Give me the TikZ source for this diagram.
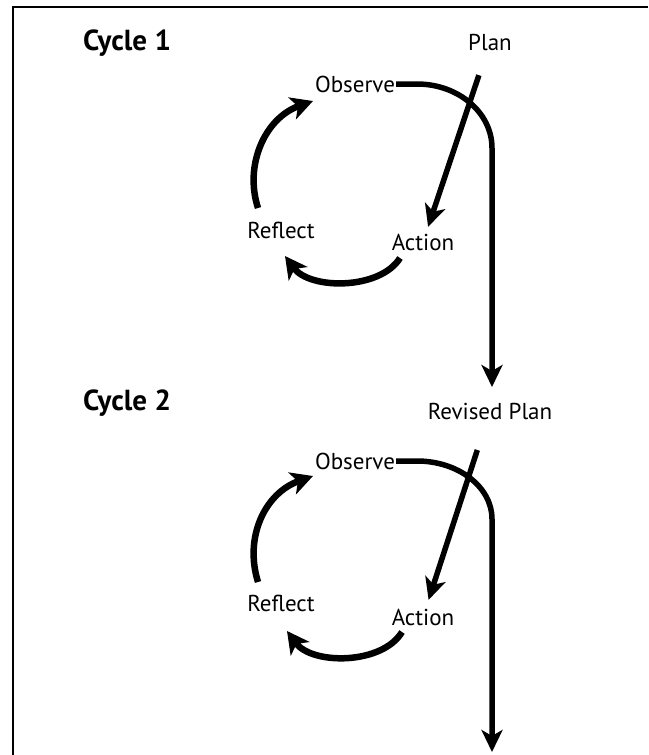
\documentclass[tikz,border=0pt]{standalone}
\usepackage{fontspec}
\setmainfont{PT Sans}
\usetikzlibrary{arrows.meta}
\tikzset{
  lbl/.style={inner sep=1pt, font=\fontsize{23}{27}\selectfont},
  ttl/.style={inner sep=1pt, font=\fontsize{29}{34}\selectfont\bfseries},
  arc/.style={line width=6.5pt, -{Stealth[length=22pt,width=23pt,inset=6pt]}},
  flow/.style={line width=5.5pt, -{Stealth[length=22pt,width=21pt,inset=6pt]}},
  frame/.style={line width=2pt}
}
\begin{document}
\begin{tikzpicture}[x=1pt,y=-1pt]
\useasboundingbox (0,0) rectangle (648,755);
\draw[frame] (648,7) -- (13,7) -- (13,755);

% Cycle 1
\node[ttl] (cyc1) at (127,43) {Cycle 1};
\node[lbl] (plan1) at (490,42) {Plan};
\node[lbl] (obs1) at (355,84) {Observe};
\node[lbl] (refl1) at (281,230) {Reflect};
\node[lbl] (act1) at (423,242) {Action};
\coordinate (bend1) at (417,84);
\coordinate (tip1) at (492,387);

\draw[arc] ([shift={(-23,-22)}]refl1.center) .. controls (244,165) and (265,118) .. (313,101);
\draw[arc] ([shift={(-23,16)}]act1.center) .. controls (380,290) and (310,290) .. (285,256);
\draw[flow] (obs1.east) -- (bend1) arc[start angle=-90, end angle=0, x radius=75, y radius=64] -- (tip1);
\draw[flow, shorten <=35pt, shorten >=16pt] (plan1.center) -- (act1.center);

% Cycle 2
\node[ttl] (cyc2) at (127,403) {Cycle 2};
\node[lbl] (plan2) at (490,411) {Revised Plan};
\node[lbl] (obs2) at (355,461) {Observe};
\node[lbl] (refl2) at (281,603) {Reflect};
\node[lbl] (act2) at (423,617) {Action};
\coordinate (bend2) at (417,461);
\coordinate (tip2) at (492,752);

\draw[arc] ([shift={(-23,-21)}]refl2.center) .. controls (244,537) and (265,493) .. (313,476);
\draw[arc] ([shift={(-21,15)}]act2.center) .. controls (382,665) and (312,665) .. (287,631);
\draw[flow] (obs2.east) -- (bend2) arc[start angle=-90, end angle=0, x radius=75, y radius=58] -- (tip2);
\draw[flow, shorten <=41pt, shorten >=18pt] (plan2.center) -- (act2.center);
\end{tikzpicture}
\end{document}
